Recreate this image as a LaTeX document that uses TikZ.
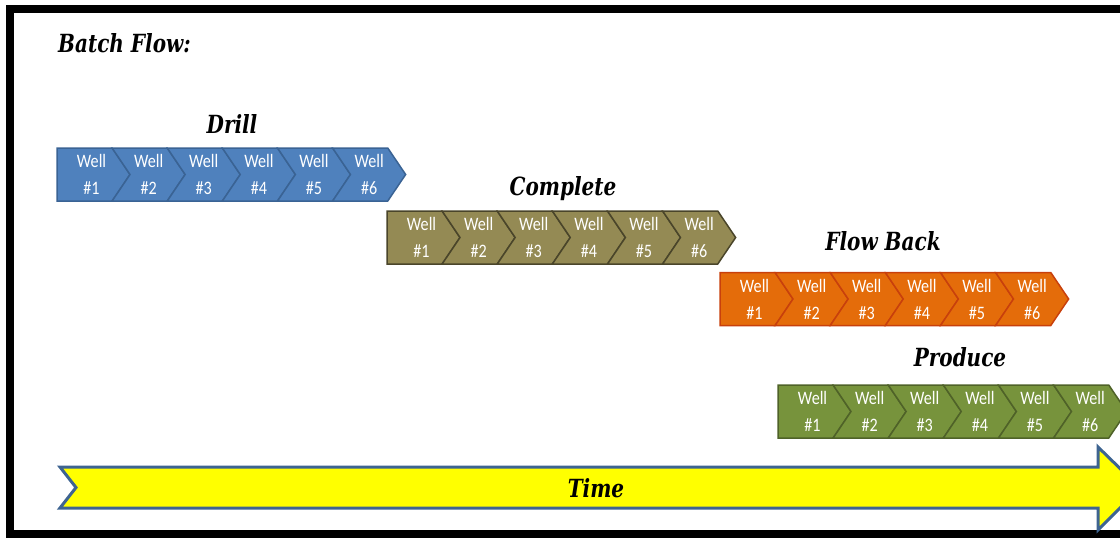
\documentclass[tikz,border=0pt]{standalone}
\usepackage{fontspec}
\setmainfont{DejaVu Serif}[FakeStretch=0.8]
\newfontfamily\wellfont{Carlito}[FakeStretch=0.85]
\usetikzlibrary{shapes,positioning}
\definecolor{drillfill}{HTML}{4F81BD}
\definecolor{drilldraw}{HTML}{3A6394}
\definecolor{completefill}{HTML}{948A54}
\definecolor{completedraw}{HTML}{4A452A}
\definecolor{flowfill}{HTML}{E46C0A}
\definecolor{flowdraw}{HTML}{C8400C}
\definecolor{producefill}{HTML}{77933C}
\definecolor{producedraw}{HTML}{4F6228}
\definecolor{timefill}{HTML}{FFFF00}
\definecolor{timedraw}{HTML}{3E6491}
\tikzstyle{well} = [signal, signal to=east, signal from=west, signal pointer angle=112, minimum width=73pt, minimum height=53pt, inner sep=0pt, outer sep=0pt, text=white, align=center, line width=1.5pt, font=\wellfont\fontsize{19}{27}\selectfont]
\tikzstyle{firstwell} = [well, signal from=nowhere, anchor=west]
\tikzstyle{phase} = [anchor=base, inner sep=0pt, font=\bfseries\itshape\fontsize{25}{28}\selectfont]

\begin{document}
\begin{tikzpicture}[x=1pt, y=-1pt, node distance=0pt]
\useasboundingbox (0,0) rectangle (1120,538);
\clip (0,0) rectangle (1120,538);
\draw [line width=8pt] (1130,8.5) -- (10,8.5) -- (10,534) -- (1130,534);
\node [phase, anchor=base west] (BatchFlow) at (58,52) {Batch Flow:};

% drill
\node [phase] (DrillLabel) at (232,133) {Drill};
\node [firstwell, fill=drillfill, draw=drilldraw] (Drill1) at (57,174.5) {\hspace*{14pt}Well\\\hspace*{14pt}\#1};
\node [well, right = of Drill1, fill=drillfill, draw=drilldraw] (Drill2) {Well\\\#2};
\node [well, right = of Drill2, fill=drillfill, draw=drilldraw] (Drill3) {Well\\\#3};
\node [well, right = of Drill3, fill=drillfill, draw=drilldraw] (Drill4) {Well\\\#4};
\node [well, right = of Drill4, fill=drillfill, draw=drilldraw] (Drill5) {Well\\\#5};
\node [well, right = of Drill5, fill=drillfill, draw=drilldraw] (Drill6) {Well\\\#6};

% complete
\node [phase] (CompleteLabel) at (563,195) {Complete};
\node [firstwell, fill=completefill, draw=completedraw] (Complete1) at (387,237.5) {\hspace*{14pt}Well\\\hspace*{14pt}\#1};
\node [well, right = of Complete1, fill=completefill, draw=completedraw] (Complete2) {Well\\\#2};
\node [well, right = of Complete2, fill=completefill, draw=completedraw] (Complete3) {Well\\\#3};
\node [well, right = of Complete3, fill=completefill, draw=completedraw] (Complete4) {Well\\\#4};
\node [well, right = of Complete4, fill=completefill, draw=completedraw] (Complete5) {Well\\\#5};
\node [well, right = of Complete5, fill=completefill, draw=completedraw] (Complete6) {Well\\\#6};

% flow back
\node [phase] (FlowBackLabel) at (883,250) {Flow Back};
\node [firstwell, fill=flowfill, draw=flowdraw] (FlowBack1) at (720,299) {\hspace*{14pt}Well\\\hspace*{14pt}\#1};
\node [well, right = of FlowBack1, fill=flowfill, draw=flowdraw] (FlowBack2) {Well\\\#2};
\node [well, right = of FlowBack2, fill=flowfill, draw=flowdraw] (FlowBack3) {Well\\\#3};
\node [well, right = of FlowBack3, fill=flowfill, draw=flowdraw] (FlowBack4) {Well\\\#4};
\node [well, right = of FlowBack4, fill=flowfill, draw=flowdraw] (FlowBack5) {Well\\\#5};
\node [well, right = of FlowBack5, fill=flowfill, draw=flowdraw] (FlowBack6) {Well\\\#6};

% produce
\node [phase] (ProduceLabel) at (960,366) {Produce};
\node [firstwell, fill=producefill, draw=producedraw] (Produce1) at (778,411.5) {\hspace*{14pt}Well\\\hspace*{14pt}\#1};
\node [well, right = of Produce1, fill=producefill, draw=producedraw] (Produce2) {Well\\\#2};
\node [well, right = of Produce2, fill=producefill, draw=producedraw] (Produce3) {Well\\\#3};
\node [well, right = of Produce3, fill=producefill, draw=producedraw] (Produce4) {Well\\\#4};
\node [well, right = of Produce4, fill=producefill, draw=producedraw] (Produce5) {Well\\\#5};
\node [well, right = of Produce5, fill=producefill, draw=producedraw] (Produce6) {Well\\\#6};

% time arrow
\draw [fill=timefill, draw=timedraw, line width=3pt, line join=miter]
  (60,467) -- (1098,467) -- (1098,447) -- (1140,488) -- (1098,530) -- (1098,508)
  -- (60,508) -- (76,487.5) -- cycle;
\node [phase] (TimeLabel) at (596,497) {Time};

\end{tikzpicture}
\end{document}
